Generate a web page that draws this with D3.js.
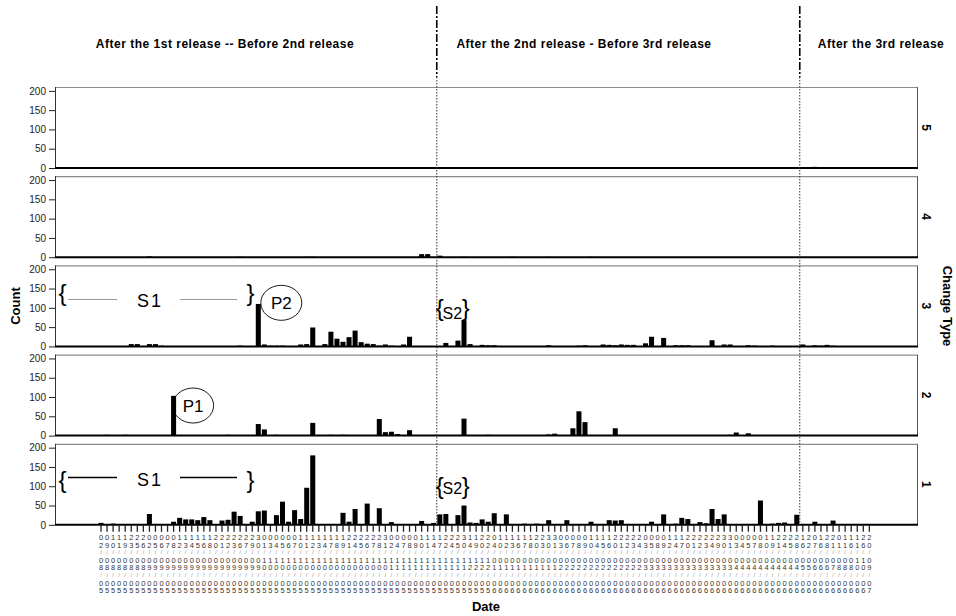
<!DOCTYPE html>
<html><head><meta charset="utf-8">
<script src="https://cdn.jsdelivr.net/npm/d3@7"></script>
<style>
body{margin:0;background:#fff}
svg{display:block}
text{font-family:"Liberation Sans",Arial,sans-serif}
</style>
</head><body>
<svg id="c" width="956" height="616"></svg>
<script>
// ---------------- DATA ----------------
const dates = [
"02/08/05","09/08/05","10/08/05","11/08/05","19/08/05","23/08/05","25/08/05","26/08/05",
"02/09/05","05/09/05","06/09/05","07/09/05","08/09/05","12/09/05","13/09/05","14/09/05","15/09/05","16/09/05","18/09/05","20/09/05","21/09/05","22/09/05","23/09/05","26/09/05","27/09/05","29/09/05","30/09/05",
"01/10/05","03/10/05","04/10/05","05/10/05","06/10/05","07/10/05","10/10/05","11/10/05","12/10/05","13/10/05","14/10/05","17/10/05","18/10/05","19/10/05","21/10/05","24/10/05","25/10/05","26/10/05","27/10/05","28/10/05","31/10/05",
"02/11/05","04/11/05","07/11/05","08/11/05","09/11/05","10/11/05","11/11/05","14/11/05","17/11/05","22/11/05","24/11/05","25/11/05","30/11/05",
"14/12/05","19/12/05","20/12/05","22/12/05",
"04/01/06","10/01/06","12/01/06","13/01/06","16/01/06","17/01/06","18/01/06","20/01/06","23/01/06","30/01/06","31/01/06",
"03/02/06","06/02/06","07/02/06","08/02/06","09/02/06","10/02/06","14/02/06","15/02/06","16/02/06","20/02/06","21/02/06","22/02/06","23/02/06","24/02/06",
"03/03/06","05/03/06","08/03/06","09/03/06","12/03/06","14/03/06","17/03/06","20/03/06","21/03/06","22/03/06","23/03/06","24/03/06","29/03/06","30/03/06","31/03/06",
"03/04/06","04/04/06","05/04/06","07/04/06","08/04/06","10/04/06","19/04/06","21/04/06","24/04/06","25/04/06","28/04/06",
"16/05/06","22/05/06",
"07/06/06","16/06/06","28/06/06",
"21/07/06",
"01/08/06","11/08/06","16/08/06",
"11/10/06","26/10/06",
"20/09/07"
];

const changeTypes = ["5","4","3","2","1"];

const type1 = [
5,0,3,2,0,2,1,0,28,0,
0,2,8,18,14,14,12,20,12,2,
11,13,34,23,2,8,35,37,0,25,
60,8,38,15,96,180,1,0,2,0,
31,8,41,2,55,2,43,0,7,0,
1,0,2,10,2,5,27,28,2,25,
50,6,5,14,8,30,1,27,1,1,
3,1,3,1,12,2,0,12,1,1,
0,8,1,0,12,11,12,0,0,0,
1,8,1,27,0,3,18,15,0,7,
4,41,15,27,0,0,2,0,0,63,
0,3,5,6,1,26,0,0,8,0,
0,11,0,0,0,1,0,0
];

const type2 = [
0,2,0,0,2,0,0,0,0,0,
0,0,103,0,0,0,0,0,0,0,
0,2,0,0,0,0,30,16,0,2,
0,0,0,0,0,33,0,0,2,0,
2,0,0,0,0,0,43,9,10,4,
0,14,0,0,0,0,0,0,0,0,
44,0,0,0,2,0,0,0,0,0,
0,0,0,0,3,5,1,0,19,63,
35,0,1,0,0,19,0,0,0,0,
0,0,0,0,0,0,0,0,0,0,
0,0,0,1,2,8,0,6,0,0,
0,0,0,0,0,0,0,0,0,0,
0,0,0,0,0,1,0,0
];

const type3 = [
0,1,0,0,0,6,6,0,6,6,
2,1,0,0,0,0,0,0,0,0,
0,0,0,2,0,0,110,5,2,2,
2,0,0,5,6,49,1,6,38,20,
12,24,41,11,7,6,2,5,2,0,
5,25,1,0,0,0,0,9,0,15,
68,6,0,4,3,3,0,1,0,0,
0,0,0,0,3,1,1,0,0,2,
3,0,0,5,4,3,5,4,4,0,
8,25,0,22,0,3,3,3,0,1,
0,16,0,5,5,0,0,3,2,0,
0,2,1,0,0,0,5,0,3,2,
4,2,0,0,1,0,0,0
];

const type4 = [
0,0,0,0,0,0,0,0,2,0,
0,0,0,0,0,0,0,0,0,0,
0,0,0,1,0,0,0,0,0,0,
0,0,0,0,1,1,0,0,0,0,
0,0,0,0,0,0,0,0,0,0,
0,0,0,8,8,0,4,0,0,0,
1,0,0,0,0,0,0,0,1,0,
0,0,0,0,1,0,0,0,0,0,
0,1,0,0,0,0,0,0,0,0,
0,0,0,0,0,0,0,0,0,0,
0,0,0,0,0,0,0,0,0,0,
0,0,0,0,0,0,0,0,0,0,
0,0,0,0,0,0,0,0
];

const type5 = [
0,0,0,0,0,0,0,0,0,0,
0,0,0,0,0,0,0,0,0,0,
0,0,0,0,0,0,0,0,0,0,
0,0,0,0,0,0,0,0,0,0,
0,0,0,0,0,0,0,0,0,0,
0,0,0,0,0,0,0,0,0,0,
0,0,0,0,0,0,0,0,0,0,
0,0,0,0,0,0,0,0,0,0,
0,0,0,0,0,0,0,0,0,0,
0,0,0,0,0,0,0,0,0,0,
0,0,0,0,0,0,0,0,0,0,
0,0,0,0,0,0,0,0,3,0,
0,0,0,0,0,0,0,0
];

const yTicks = [0, 50, 100, 150, 200];
const periodLabels = ["After the 1st release -- Before 2nd release",
                      "After the 2nd release - Before 3rd release",
                      "After the 3rd release"];
const releaseStartDates = ["17/11/05", "16/05/06"];   // first dates after 2nd and 3rd release

// ---------------- LAYOUT ----------------
const svg = d3.select("#c");
const plotL = 55, plotR = 917;
const panelTop0 = 87, pitch = 89.2, panelH = 81;
const series = [type5, type4, type3, type2, type1];
const FONT = '"Liberation Sans",Arial,sans-serif';

const x = d3.scaleBand().domain(dates).range([97.975, 872.375])
  .paddingInner(0.17).paddingOuter(0.085);
const half = x.step() * x.paddingInner() / 2;

const yScales = [];
series.forEach((vals, k) => {
  const top = panelTop0 + k * pitch, base = top + panelH;
  const y = d3.scaleLinear().domain([0, 210]).range([base, top]);
  yScales.push(y);
  const g = svg.append("g");
  g.append("line").attr("x1", plotL).attr("x2", plotR).attr("y1", top + 0.5).attr("y2", top + 0.5)
    .attr("stroke", "#8c8c8c").attr("stroke-width", 1.2);
  g.append("line").attr("x1", plotR + 0.5).attr("x2", plotR + 0.5).attr("y1", top).attr("y2", base)
    .attr("stroke", "#555").attr("stroke-width", 1);

  const data = dates.map((d, i) => ({d, v: vals[i]})).filter(o => o.v > 0);
  g.selectAll("rect").data(data).join("rect")
    .attr("x", o => x(o.d)).attr("width", x.bandwidth())
    .attr("y", o => y(o.v)).attr("height", o => base - y(o.v))
    .attr("fill", "#000");

  const ax = g.append("g").attr("transform", `translate(${plotL},0)`)
    .call(d3.axisLeft(y).tickValues(yTicks).tickSize(6).tickPadding(3));
  ax.select(".domain").remove();
  ax.selectAll("line").attr("stroke", "#222");
  ax.selectAll("text").attr("font-size", 10).attr("fill", "#222").attr("font-family", FONT);

  g.append("line").attr("x1", plotL + 0.5).attr("x2", plotL + 0.5).attr("y1", top).attr("y2", base)
    .attr("stroke", "#333").attr("stroke-width", 1);
  g.append("line").attr("x1", plotL).attr("x2", plotR + 1).attr("y1", base).attr("y2", base)
    .attr("stroke", "#000").attr("stroke-width", 2);

  g.append("text").attr("transform", `translate(926,${(top + base) / 2}) rotate(90)`)
    .attr("text-anchor", "middle").attr("dy", "0.35em")
    .attr("font-size", 12).attr("font-weight", "bold").text(changeTypes[k]);
});

// ---------------- X AXIS ----------------
const bottomBase = panelTop0 + 4 * pitch + panelH;
const xa = svg.append("g").attr("transform", `translate(0,${bottomBase})`)
  .call(d3.axisBottom(x).tickSize(7).tickFormat(""));
xa.select(".domain").remove();
xa.selectAll("line").attr("stroke", "#222").attr("stroke-width", 1.3);

const lab = svg.append("g");
dates.forEach(d => {
  const cx = x(d) + x.bandwidth() / 2;
  d.split("").forEach((ch, j) => {
    const isSlash = ch === "/";
    lab.append("text").attr("x", cx).attr("y", 540 + 7.6 * j - (isSlash ? 1 : 0))
      .attr("text-anchor", "middle")
      .attr("font-size", isSlash ? 6 : 7.5)
      .attr("fill", isSlash ? "#999" : "#333")
      .text(ch);
  });
});

// ---------------- TITLES ----------------
svg.append("text").attr("x", 486).attr("y", 611).attr("text-anchor", "middle")
  .attr("font-size", 13).attr("font-weight", "bold").text("Date");
svg.append("text").attr("transform", "translate(20,306) rotate(-90)").attr("text-anchor", "middle")
  .attr("font-size", 13).attr("font-weight", "bold").text("Count");
svg.append("text").attr("transform", "translate(943,306) rotate(90)").attr("text-anchor", "middle")
  .attr("font-size", 13).attr("font-weight", "bold").text("Change Type");

const headerX = [225, 584, 881];
periodLabels.forEach((t, i) => {
  svg.append("text").attr("x", headerX[i]).attr("y", 48).attr("text-anchor", "middle")
    .attr("font-size", 12).attr("letter-spacing", 0.5).attr("font-weight", "bold").text(t);
});

// release separators
releaseStartDates.forEach(d => {
  const lx = x(d) - half;
  svg.append("line").attr("x1", lx).attr("x2", lx).attr("y1", 6).attr("y2", 77)
    .attr("stroke", "#000").attr("stroke-width", 1.6).attr("stroke-dasharray", "8,2,2,2");
  svg.append("line").attr("x1", lx).attr("x2", lx).attr("y1", 77).attr("y2", bottomBase)
    .attr("stroke", "#333").attr("stroke-width", 1).attr("stroke-dasharray", "1.5,1.5");
});

// ---------------- ANNOTATIONS ----------------
const ann = svg.append("g");
function brace(ch, xx, yy) {
  ann.append("text").attr("x", xx).attr("y", yy).attr("font-family", '"Liberation Serif",serif')
    .attr("font-size", 24).attr("font-weight", 300).attr("text-anchor", "middle").text(ch);
}
function s1(yBrace, yLine, yText, col, sw) {
  brace("{", 62.5, yBrace);
  ann.append("line").attr("x1", 68).attr("x2", 117).attr("y1", yLine).attr("y2", yLine)
    .attr("stroke", col).attr("stroke-width", sw);
  ann.append("text").attr("x", 150).attr("y", yText).attr("text-anchor", "middle")
    .attr("font-size", 18).attr("letter-spacing", 2).text("S1");
  ann.append("line").attr("x1", 180).attr("x2", 237).attr("y1", yLine).attr("y2", yLine)
    .attr("stroke", col).attr("stroke-width", sw);
  brace("}", 250.5, yBrace);
}
s1(301, 299.5, 307, "#999", 1);
s1(488, 477.5, 485.5, "#000", 1.3);

function s2(yBrace, yText) {
  const lx = x(releaseStartDates[0]) - half;
  brace("{", lx + 3, yBrace);
  ann.append("text").attr("x", lx + 15.5).attr("y", yText).attr("text-anchor", "middle")
    .attr("font-size", 16).text("S2");
  brace("}", lx + 29, yBrace);
}
s2(316, 319);
s2(494, 493.5);

function peak(label, idx, yScale, val, dx) {
  const cx = x(dates[idx]) + x.bandwidth() + dx, cy = yScale(val);
  ann.append("ellipse").attr("cx", cx).attr("cy", cy).attr("rx", 20.5).attr("ry", 17.5)
    .attr("fill", "none").attr("stroke", "#000").attr("stroke-width", 0.9);
  ann.append("text").attr("x", cx).attr("y", cy + 6).attr("text-anchor", "middle")
    .attr("font-size", 17).text(label);
}
peak("P2", 26, yScales[2], 113, 20.5);
peak("P1", 12, yScales[3], 78, 17);
</script>
</body></html>
